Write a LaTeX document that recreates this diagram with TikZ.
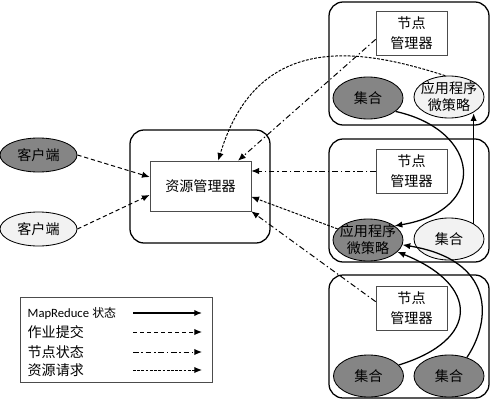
\documentclass[tikz,border=0pt]{standalone}
\usepackage{fontspec}
\setmainfont{Noto Sans CJK SC}
\newfontfamily\latinfont{Carlito}
\usetikzlibrary{arrows.meta,shapes.geometric}
\definecolor{darkfill}{gray}{0.52}
\definecolor{lightfill}{gray}{0.95}

\begin{document}
\begin{tikzpicture}[>={Latex[length=5.5pt,width=4.5pt]}, x=0.025cm, y=-0.025cm,
  container/.style={draw, line width=0.9pt, rounded corners=10pt},
  mgrbox/.style={draw=black!70, fill=white, minimum width=1.775cm, minimum height=1.1cm,
    inner sep=0pt, align=center, font=\fontsize{10}{14.5}\selectfont},
  cellnode/.style={ellipse, draw, line width=0.6pt, minimum width=1.75cm, minimum height=1.05cm, inner sep=0pt},
  darknode/.style={cellnode, fill=darkfill},
  lightnode/.style={cellnode, fill=lightfill},
  amtext/.style={align=center, inner sep=0pt, font=\fontsize{10}{12}\selectfont},
  mrst/.style={line width=0.9pt},
  jobsub/.style={line width=0.7pt, dash pattern=on 3pt off 2pt},
  nodest/.style={line width=0.7pt, dash pattern=on 4pt off 2pt on 1pt off 2pt},
  resreq/.style={line width=0.7pt, dash pattern=on 2pt off 1pt},
  legtext/.style={anchor=west, inner sep=1pt}]
  \useasboundingbox (0,0) rectangle (491,400);
  % 资源管理器
  \draw[container] (130,130) rectangle (270,243);
  \node[mgrbox, minimum width=2.525cm, minimum height=1.25cm] (rm) at (200.5,186) {资源管理器};
  % 三个节点
  \foreach \y in {2,139,275}
    \draw[container] (329,\y) rectangle ++(160,123);
  \node[mgrbox] (nm1) at (411.5,33) {节点\\管理器};
  \node[mgrbox] (nm2) at (411.5,171) {节点\\管理器};
  \node[mgrbox] (nm3) at (411.5,308) {节点\\管理器};
  % 集合 / 应用程序微策略
  \node[darknode, label={center:集合}] (set1) at (368,98) {};
  \node[lightnode, label={[amtext]center:{应用程序\\微策略}}] (am1) at (449,97) {};
  \node[darknode, label={[amtext]center:{应用程序\\微策略}}] (am2) at (368,240) {};
  \node[lightnode, label={center:集合}] (set2) at (449,239) {};
  \node[darknode, label={center:集合}] (set3) at (368.5,376) {};
  \node[darknode, label={center:集合}] (set4) at (449,376) {};
  % 客户端
  \node[darknode, minimum width=1.925cm, minimum height=0.85cm] (cl1) at (38.5,155) {客户端};
  \node[lightnode, minimum width=1.925cm, minimum height=0.85cm] (cl2) at (38.5,229) {客户端};
  % 作业提交
  \draw[jobsub,->] (cl1.east) -- (rm.170);
  \draw[jobsub,->] (cl2.east) -- (rm.190);
  % 节点状态
  \draw[nodest,->] (nm1.190) -- (rm.34);
  \draw[nodest,->] (nm2.west) -- (rm.east |- nm2.west);
  \draw[nodest,->] (nm3.170) -- (rm.south east);
  % 资源请求
  \draw[resreq,->] (am1.100) .. controls (365,50) and (258,28) .. (rm.55);
  \draw[resreq,->] (am2.160) -- (rm.-12);
  % MapReduce 状态
  \draw[mrst,->] (set1.-26) .. controls (480,130) and (490,210) .. (am2.28);
  \draw[mrst,->] (set2.32) -- (set2.32 |- am1.-35);
  \draw[mrst,->] (set3.20) .. controls (480,340) and (480,285) .. (am2.-22);
  \draw[mrst,->] (set4.46) .. controls (492,320) and (495,260) .. (am2.-8);
  % 图例
  \draw[draw=black!70, line width=0.5pt] (20,297) rectangle (212,382);
  \node[legtext] (lg1) at (26,313) {{\latinfont\fontsize{9}{9}\selectfont MapReduce} {\fontsize{8.5}{9}\selectfont 状态}};
  \node[legtext] (lg2) at (26,332) {作业提交};
  \node[legtext] (lg3) at (26,352) {节点状态};
  \node[legtext] (lg4) at (26,370) {资源请求};
  \draw[mrst,->] (133,313) -- (202,313);
  \draw[jobsub,->] (133,332) -- (202,332);
  \draw[nodest,->] (133,352) -- (202,352);
  \draw[resreq,->] (133,370) -- (202,370);
\end{tikzpicture}
\end{document}
